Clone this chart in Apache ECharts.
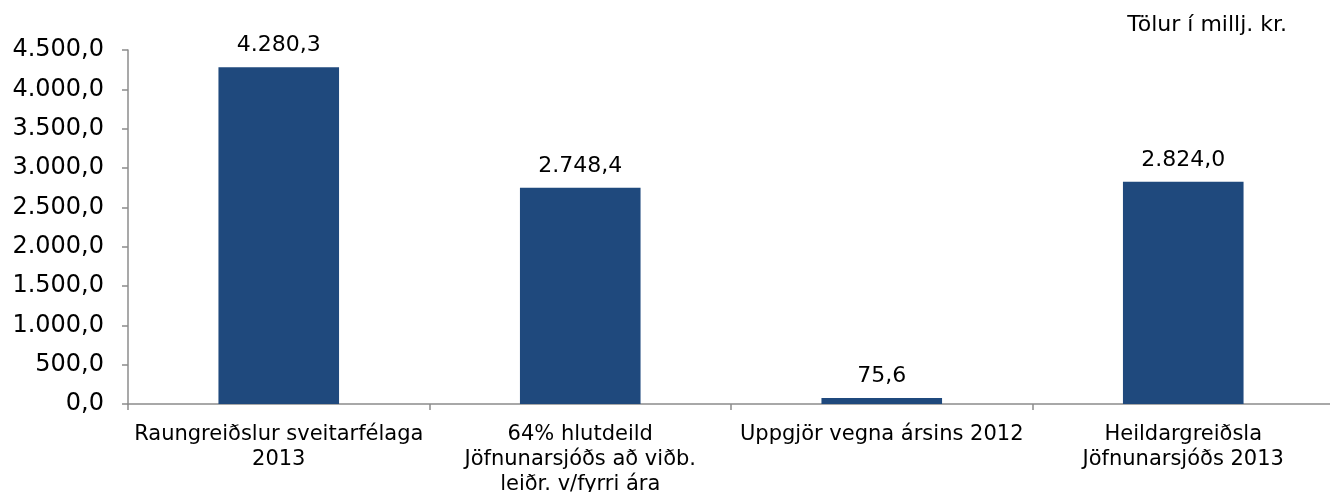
<!DOCTYPE html>
<html>
<head>
<meta charset="utf-8">
<script src="https://cdn.jsdelivr.net/npm/echarts@6/dist/echarts.min.js"></script>
<style>
  html, body { margin: 0; padding: 0; background: #fff; }
  #chart { width: 1330px; height: 492px; }
</style>
</head>
<body>
<div id="chart"></div>
<script>
var categories = [
  'Raungreiðslur sveitarfélaga\n2013',
  '64% hlutdeild\nJöfnunarsjóðs að viðb.\nleiðr. v/fyrri ára',
  'Uppgjör vegna ársins 2012',
  'Heildargreiðsla\nJöfnunarsjóðs 2013'
];
var values = [4280.3, 2748.4, 75.6, 2824.0];
var yMin = 0, yMax = 4500, yStep = 500;
var unitNote = 'Tölur í millj. kr.';

// Icelandic number format: 4.280,3
function fmt(v) {
  var parts = Number(v).toFixed(1).split('.');
  return parts[0].replace(/\B(?=(\d{3})+(?!\d))/g, '.') + ',' + parts[1];
}

var font = '"DejaVu Sans", Verdana, sans-serif';
var chart = echarts.init(document.getElementById('chart'), null, { renderer: 'canvas' });
chart.setOption({
  animation: false,
  title: {
    text: unitNote,
    right: 38,
    top: 9,
    textStyle: { color: '#000', fontSize: 22, fontWeight: 'normal', fontFamily: font }
  },
  grid: { left: 128, top: 50, width: 1206, height: 354, containLabel: false, outerBoundsMode: 'none' },
  xAxis: {
    type: 'category',
    data: categories,
    axisLine: { lineStyle: { color: '#8c8c8c', width: 1.5 } },
    axisTick: { show: true, alignWithLabel: false, length: 6, lineStyle: { color: '#8c8c8c', width: 1.5 } },
    axisLabel: {
      color: '#000', fontSize: 21, fontFamily: font, lineHeight: 25,
      margin: 18, interval: 0
    }
  },
  yAxis: {
    type: 'value',
    min: yMin, max: yMax, interval: yStep,
    splitLine: { show: false },
    axisLine: { show: true, lineStyle: { color: '#8c8c8c', width: 1.5 } },
    axisTick: { show: true, length: 6, lineStyle: { color: '#8c8c8c', width: 1.5 } },
    axisLabel: { color: '#000', fontSize: 24, fontFamily: font, margin: 24, formatter: fmt }
  },
  series: [{
    type: 'bar',
    data: values,
    barWidth: '40%',
    itemStyle: { color: '#1F497D' },
    label: {
      show: true, position: 'top', distance: 11,
      color: '#000', fontSize: 22, fontFamily: font,
      formatter: function (p) { return fmt(p.value); }
    }
  }]
});
</script>
</body>
</html>
